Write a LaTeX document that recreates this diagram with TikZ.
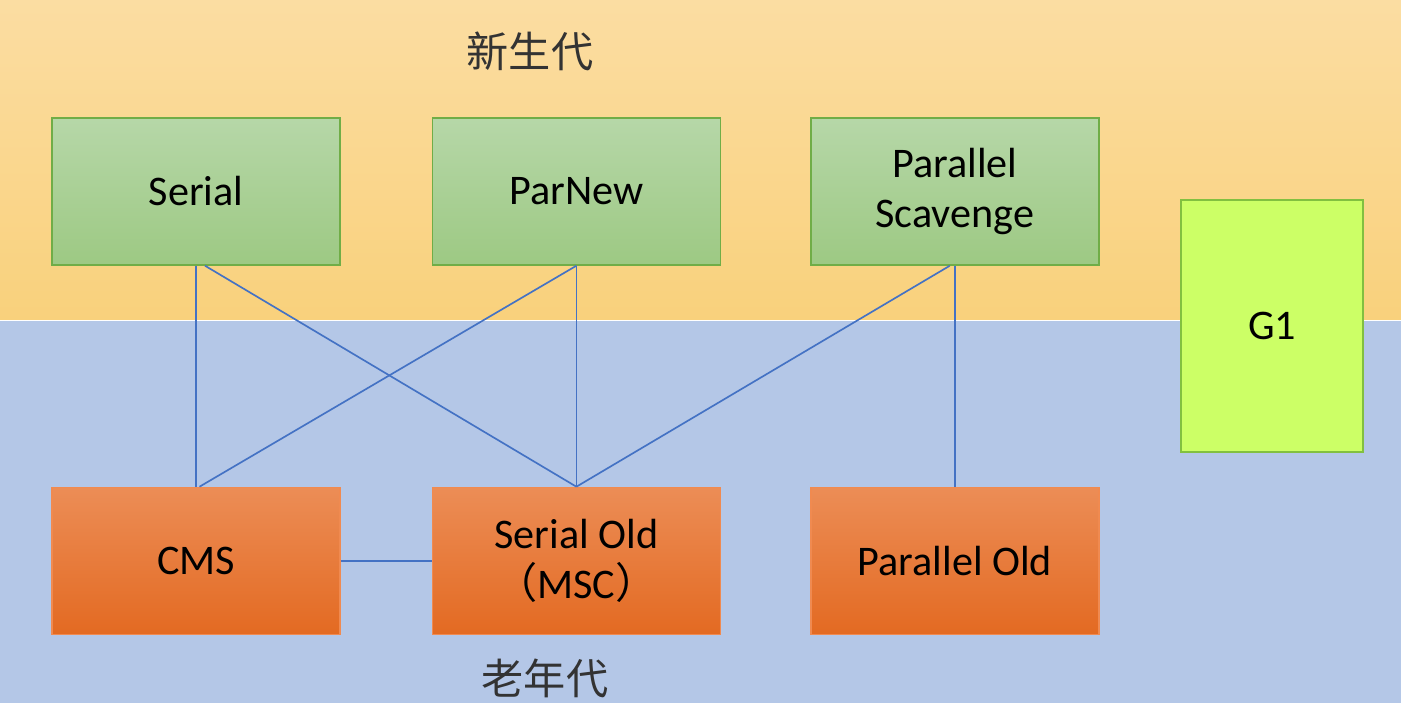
\documentclass[tikz,border=0pt]{standalone}
\usepackage{fontspec}
\setmainfont{Carlito}
\newfontfamily\cjk{Noto Sans CJK SC}
\usepackage{tikz}
\usepackage{xcolor}
\usetikzlibrary{positioning}

\definecolor{bandtop}{HTML}{FBDDA2}
\definecolor{bandbot}{HTML}{F9D17C}
\definecolor{bandold}{HTML}{B4C7E7}
\definecolor{grntop}{HTML}{B6D7A8}
\definecolor{grnbot}{HTML}{9DC983}
\definecolor{grnline}{HTML}{70AD47}
\definecolor{orgtop}{HTML}{EC8D56}
\definecolor{orgbot}{HTML}{E36A22}
\definecolor{orgline}{HTML}{F08A50}
\definecolor{gonefill}{HTML}{CCFF66}
\definecolor{goneline}{HTML}{82C040}
\definecolor{linkblue}{HTML}{4472C4}

\tikzset{
  gc/.style={minimum width=5.76cm,minimum height=2.94cm,align=center,
    inner sep=0pt,font=\fontsize{24}{28.5}\selectfont,line width=.8pt},
  yng/.style={gc,draw=grnline,top color=grntop,bottom color=grnbot},
  old/.style={gc,draw=orgline,top color=orgtop,bottom color=orgbot},
  link/.style={draw=linkblue,line width=.95pt},
  gen/.style={font=\cjk\fontsize{24}{28}\selectfont,text=black!80}
}

\begin{document}
\begin{tikzpicture}
  \useasboundingbox (0,0) rectangle (28.02,-14.1);
  \fill[top color=bandtop,bottom color=bandbot] (0,0) rectangle (28.02,-6.39);
  \fill[bandold] (0,-6.42) rectangle (28.02,-14.06);

  \node (se) [yng] at (3.92,-3.83) {Serial};
  \node (pn) [yng,right=1.82cm of se] {ParNew};
  \node (ps) [yng,right=1.78cm of pn] {Parallel\\Scavenge};
  \node (cms) [old,below=4.42cm of se] {CMS};
  \node (so) [old,below=4.42cm of pn] {Serial Old\\{\cjk （}MSC{\cjk ）}};
  \node (po) [old,below=4.42cm of ps] {Parallel Old};
  \node (gone) [gc,minimum width=3.64cm,minimum height=5.04cm,draw=goneline,fill=gonefill]
    at (25.44,-6.52) {G1};

  \node (ygen) [gen] at (10.6,-1.02) {新生代};
  \node (ogen) [gen] at (10.9,-13.56) {老年代};

  \path (node cs:name=se,anchor=south) +(.18,0) coordinate (seo) {};
  \path (node cs:name=ps,anchor=south) +(-.1,0) coordinate (pso) {};
  \path (node cs:name=cms,anchor=north) +(.07,0) coordinate (cmsi) {};
  \draw[link] (se.south) -- (cms.north);
  \draw[link] (seo) -- (so.north);
  \draw[link] (pn.south) -- (cmsi);
  \draw[link] (pn.south) -- (so.north);
  \draw[link] (pso) -- (so.north);
  \draw[link] (ps.south) -- (po.north);
  \draw[link] (cms.east) -- (so.west);
\end{tikzpicture}
\end{document}
